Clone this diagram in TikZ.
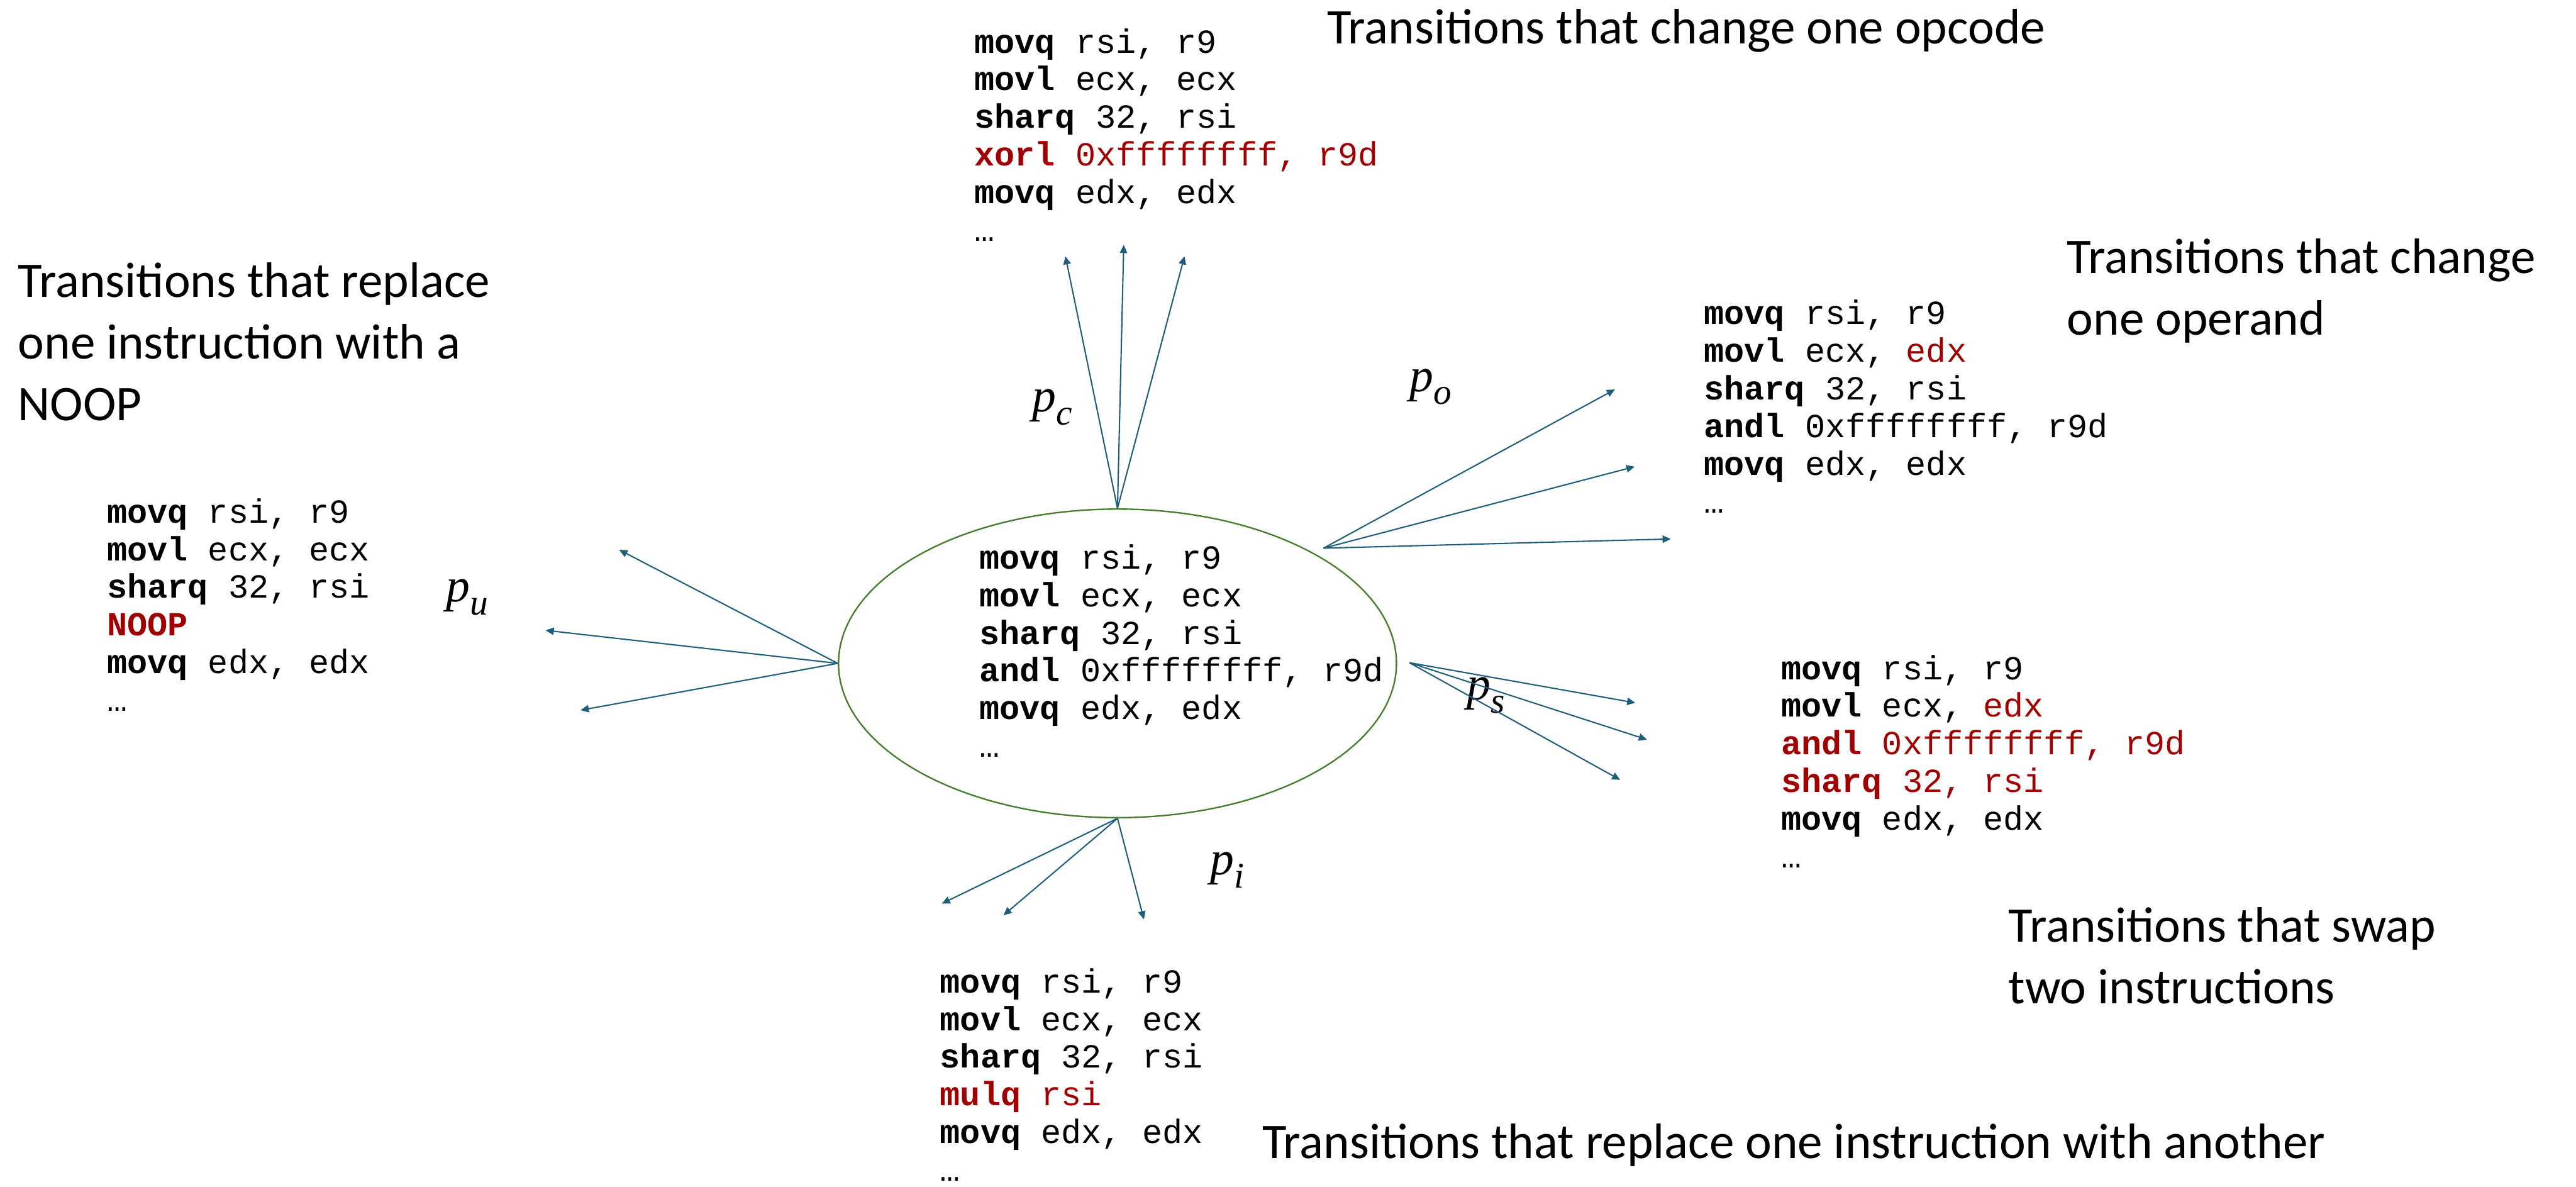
\documentclass[tikz,border=0pt]{standalone}
\usepackage{fontspec}
\usetikzlibrary{arrows.meta,shapes.geometric}

\newfontfamily\codefam{Liberation Mono}
\newfontfamily\capfam{Carlito}
\newfontfamily\probfam{Liberation Serif}

\definecolor{chg}{RGB}{160,0,0}
\definecolor{arrowc}{RGB}{31,95,122}
\definecolor{ellc}{RGB}{72,125,46}

\newcommand\codefont{\codefam\fontsize{20.5pt}{22.9pt}\selectfont}
\newcommand\capfont{\capfam\fontsize{30.3pt}{37.5pt}\selectfont}
\newcommand\op[1]{\textbf{#1}}
\newcommand\hl[1]{\textcolor{chg}{#1}}
% five instruction lines followed by an ellipsis, first baseline = box baseline
\newcommand\listing[5]{\vtop{\baselineskip=22.9pt\lineskiplimit=-100pt\lineskip=0pt
  \hbox{#1}\hbox{#2}\hbox{#3}\hbox{#4}\hbox{#5}\hbox{…}}}
% transition probability p with an italic subscript
\newcommand\prob[1]{{\probfam\itshape\fontsize{29pt}{29pt}\selectfont p\raisebox{-8pt}{\fontsize{22pt}{22pt}\selectfont #1}}}

\tikzset{
  code/.style={anchor=base west, inner sep=0pt, font=\codefont},
  % multi-line captions: the base anchor sits on the last line
  caption/.style={anchor=base west, inner sep=0pt, align=left, font=\capfont},
  problabel/.style={inner sep=0pt},
  trans/.style={draw=arrowc, line width=0.8pt, -{Triangle[length=5pt,width=4.5pt]}},
}

\begin{document}
\begin{tikzpicture}[x=1pt,y=-1pt]
  \fill[white] (0,0) rectangle (1568,722);
  \useasboundingbox (0,0) rectangle (1568,722);

  % current program
  \node[draw=ellc, line width=0.9pt, ellipse, minimum width=339.6pt,
        minimum height=187.8pt, inner sep=0pt] (state) at (680.2,403.7) {};
  \node[code] (prog) at (596,346.2) {\listing
    {\op{movq} rsi, r9}
    {\op{movl} ecx, ecx}
    {\op{sharq} 32, rsi}
    {\op{andl} 0xffffffff, r9d}
    {\op{movq} edx, edx}};

  % change one opcode
  \node[code] (opcode) at (592.9,32.2) {\listing
    {\op{movq} rsi, r9}
    {\op{movl} ecx, ecx}
    {\op{sharq} 32, rsi}
    {\hl{\op{xorl} 0xffffffff, r9d}}
    {\op{movq} edx, edx}};
  \node[caption] (opcodecap) at (807.6,26.6) {Transitions that change one opcode};

  % replace one instruction with a NOOP
  \node[code] (noop) at (65,318.2) {\listing
    {\op{movq} rsi, r9}
    {\op{movl} ecx, ecx}
    {\op{sharq} 32, rsi}
    {\hl{\op{NOOP}}}
    {\op{movq} edx, edx}};
  \node[caption] (noopcap) at (10.8,255.8) {Transitions that replace\\one instruction with a\\NOOP};

  % change one operand
  \node[code] (operand) at (1037,197.5) {\listing
    {\op{movq} rsi, r9}
    {\op{movl} ecx, \hl{edx}}
    {\op{sharq} 32, rsi}
    {\op{andl} 0xffffffff, r9d}
    {\op{movq} edx, edx}};
  \node[caption] (operandcap) at (1258,203.7) {Transitions that change\\one operand};

  % swap two instructions
  \node[code] (swap) at (1084,413.5) {\listing
    {\op{movq} rsi, r9}
    {\op{movl} ecx, \hl{edx}}
    {\hl{\op{andl} 0xffffffff, r9d}}
    {\hl{\op{sharq} 32, rsi}}
    {\op{movq} edx, edx}};
  \node[caption] (swapcap) at (1222.3,610.6) {Transitions that swap\\two instructions};

  % replace one instruction with another
  \node[code] (instr) at (572,604.2) {\listing
    {\op{movq} rsi, r9}
    {\op{movl} ecx, ecx}
    {\op{sharq} 32, rsi}
    {\hl{\op{mulq} rsi}}
    {\op{movq} edx, edx}};
  \node[caption] (instrcap) at (768.1,705) {Transitions that replace one instruction with another};

  % transition probabilities
  \node[problabel] (pc) at (640.6,247.7) {\prob{c}};
  \node[problabel] (po) at (870.7,235.4) {\prob{o}};
  \node[problabel] (pu) at (284.5,363.4) {\prob{u}};
  \node[problabel] (ps) at (904.6,423.0) {\prob{s}};
  \node[problabel] (pi) at (747.2,529.6) {\prob{i}};

  % arrow origins off the ellipse border
  \coordinate (oo) at (805.6,333.6);
  \coordinate (os) at (857.9,403.3);

  % arrow ends
  \coordinate (c1) at (648.5,155.9);
  \coordinate (c2) at (684.0,149.0);
  \coordinate (c3) at (721.0,155.9);
  \coordinate (o1) at (983,237);
  \coordinate (o2) at (995,284);
  \coordinate (o3) at (1017,328);
  \coordinate (u1) at (376.9,334.6);
  \coordinate (u2) at (332.1,383.6);
  \coordinate (u3) at (353.4,432.2);
  \coordinate (s1) at (995.4,427.7);
  \coordinate (s2) at (1002.5,450.1);
  \coordinate (s3) at (986.2,474.6);
  \coordinate (i1) at (573.3,549.9);
  \coordinate (i2) at (610.8,557.0);
  \coordinate (i3) at (696.3,559.5);

  \foreach \e in {c1,c2,c3} \draw[trans] (state.north) -- (\e);
  \foreach \e in {o1,o2,o3} \draw[trans] (oo) -- (\e);
  \foreach \e in {u1,u2,u3} \draw[trans] (state.west) -- (\e);
  \foreach \e in {s1,s2,s3} \draw[trans] (os) -- (\e);
  \foreach \e in {i1,i2,i3} \draw[trans] (state.south) -- (\e);
\end{tikzpicture}
\end{document}
